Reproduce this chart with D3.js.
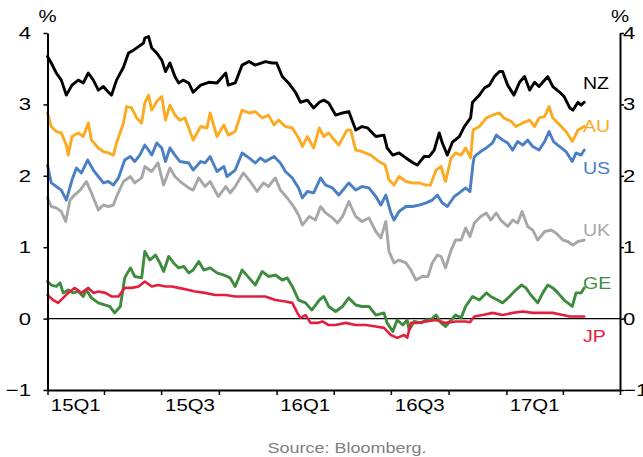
<!DOCTYPE html>
<html><head><meta charset="utf-8">
<script src="https://cdn.jsdelivr.net/npm/d3@7"></script>
<style>html,body{margin:0;padding:0;background:#fff;} svg{display:block;font-family:"Liberation Sans",Arial,sans-serif;}</style>
</head><body><svg id="c" width="643" height="457"></svg>
<script>
// ---- data (time in weeks since 2015-01-01, values in %) ----
const startDate = new Date(2015, 0, 1);
const endDate = new Date(2017, 6, 1);
const yTicks = [-1, 0, 1, 2, 3, 4];
const quarterLabels = ["15Q1", "15Q3", "16Q1", "16Q3", "17Q1"];
const seriesNames = ["NZ", "AU", "US", "UK", "GE", "JP"];
const sourceText = "Source: Bloomberg.";

const nz = [[0,3.67],[0.9,3.58],[2.0,3.44],[3.2,3.34],[4.3,3.13],[5.5,3.27],[7.0,3.34],[8.1,3.30],[9.3,3.44],[10.4,3.34],[11.6,3.20],[12.7,3.25],[13.8,3.17],[14.6,3.13],[15.7,3.34],[17.3,3.52],[18.4,3.72],[19.5,3.76],[20.7,3.81],[21.8,3.86],[22.2,3.93],[23.0,3.95],[23.7,3.79],[24.9,3.72],[26.0,3.62],[26.8,3.46],[27.9,3.58],[29.0,3.39],[29.8,3.30],[30.9,3.34],[32.1,3.30],[33.2,3.17],[34.8,3.27],[36.7,3.31],[38.6,3.30],[40.5,3.44],[41.2,3.27],[42.7,3.30],[44.3,3.55],[45.8,3.60],[47.3,3.55],[49.6,3.60],[51.1,3.58],[52.2,3.58],[53.4,3.39],[54.9,3.30],[56.4,3.17],[57.6,3.03],[59.1,3.06],[60.6,2.95],[61.8,3.03],[62.9,3.06],[64.0,3.02],[65.5,2.85],[67.1,2.88],[68.6,2.90],[70.1,2.64],[71.6,2.69],[72.8,2.67],[74.7,2.55],[76.6,2.57],[77.3,2.39],[78.5,2.29],[80.0,2.32],[81.5,2.25],[83.0,2.19],[84.2,2.15],[85.7,2.27],[86.8,2.27],[88.0,2.36],[89.1,2.60],[89.9,2.46],[91.0,2.29],[92.2,2.47],[93.7,2.55],[94.8,2.69],[96.3,2.81],[96.7,3.03],[98.3,3.13],[99.4,3.23],[100.5,3.27],[101.7,3.39],[102.8,3.46],[103.6,3.46],[104.7,3.27],[106.2,3.13],[107.4,3.31],[108.5,3.39],[109.7,3.20],[110.8,3.31],[111.9,3.25],[113.8,3.39],[115.0,3.25],[116.5,3.17],[117.6,3.11],[118.8,2.95],[119.5,2.92],[120.7,3.03],[121.4,2.99],[122.2,3.03]];
const au = [[0,2.88],[0.9,2.69],[2.0,2.62],[3.2,2.60],[4.3,2.43],[4.7,2.29],[5.5,2.55],[7.0,2.60],[8.1,2.55],[9.3,2.74],[10.0,2.50],[11.6,2.39],[12.7,2.34],[13.8,2.32],[15.0,2.29],[15.7,2.46],[17.3,2.74],[18.0,2.97],[19.2,2.95],[20.3,2.81],[21.4,2.74],[22.2,3.02],[23.0,3.13],[23.7,2.92],[24.9,3.04],[26.0,3.11],[26.8,2.78],[27.9,2.99],[29.0,2.85],[30.2,2.78],[31.3,2.81],[32.1,2.67],[33.2,2.50],[34.8,2.69],[36.3,2.67],[37.0,2.88],[38.6,2.55],[40.1,2.71],[41.2,2.57],[42.7,2.62],[44.3,2.92],[45.8,2.88],[47.3,2.90],[48.8,2.81],[50.3,2.85],[51.5,2.71],[52.6,2.78],[54.1,2.69],[55.7,2.67],[57.2,2.53],[58.0,2.41],[59.1,2.55],[60.6,2.39],[61.8,2.67],[62.9,2.55],[64.0,2.60],[64.8,2.53],[66.3,2.43],[68.2,2.64],[69.0,2.64],[70.1,2.36],[71.6,2.34],[73.5,2.29],[75.4,2.20],[76.9,2.15],[77.7,1.94],[78.9,1.87],[80.0,1.99],[81.5,1.92],[83.0,1.90],[84.6,1.90],[86.1,1.87],[87.2,1.87],[88.4,2.08],[89.5,2.13],[90.6,1.92],[91.8,2.25],[92.9,2.32],[94.1,2.29],[95.2,2.39],[96.3,2.25],[96.9,2.64],[98.3,2.69],[99.8,2.81],[101.3,2.85],[102.8,2.88],[103.9,2.81],[105.5,2.76],[106.6,2.69],[108.1,2.74],[109.7,2.78],[110.8,2.69],[111.9,2.81],[113.1,2.83],[114.1,2.97],[115.0,2.81],[116.5,2.71],[118.0,2.62],[119.4,2.48],[120.7,2.64],[122.2,2.69]];
const us = [[0,2.15],[0.9,1.90],[2.0,1.85],[3.2,1.80],[4.3,1.66],[5.5,1.94],[6.6,2.11],[7.7,2.04],[9.1,2.22],[10.4,2.08],[11.6,1.99],[12.7,1.90],[13.8,1.92],[15.0,1.87],[16.1,1.97],[17.6,2.22],[18.8,2.27],[19.9,2.20],[21.0,2.29],[22.2,2.43],[23.0,2.36],[23.7,2.29],[24.9,2.46],[26.0,2.39],[26.8,2.20],[27.9,2.39],[29.0,2.29],[30.2,2.20],[32.1,2.18],[33.2,2.08],[34.8,2.20],[35.9,2.18],[37.0,2.27],[38.6,2.06],[40.1,2.13],[40.8,1.99],[42.7,2.08],[44.3,2.32],[45.8,2.25],[47.3,2.18],[48.4,2.25],[49.6,2.20],[51.5,2.27],[53.0,2.18],[54.1,2.06],[55.7,1.97],[57.2,1.83],[58.0,1.69],[59.1,1.78],[60.6,1.76],[62.1,1.97],[63.3,1.87],[64.8,1.83],[66.3,1.73],[68.6,1.90],[70.1,1.80],[71.6,1.85],[73.2,1.83],[74.7,1.71],[75.8,1.59],[77.0,1.73],[78.1,1.48],[78.9,1.38],[80.0,1.50],[81.5,1.57],[83.0,1.57],[84.6,1.59],[86.1,1.62],[87.6,1.66],[88.7,1.73],[89.9,1.62],[91.0,1.57],[92.5,1.71],[93.7,1.76],[95.2,1.83],[96.1,1.78],[96.9,2.18],[97.1,2.27],[98.6,2.34],[99.8,2.39],[101.3,2.46],[102.2,2.57],[103.6,2.50],[104.7,2.46],[105.9,2.36],[107.0,2.48],[108.1,2.43],[109.3,2.50],[110.4,2.41],[111.9,2.36],[113.1,2.48],[114.1,2.62],[115.1,2.48],[116.5,2.41],[118.0,2.34],[119.4,2.20],[120.3,2.32],[121.4,2.29],[122.2,2.36]];
const uk = [[0,1.69],[0.9,1.57],[2.0,1.55],[3.2,1.50],[4.1,1.36],[5.1,1.66],[6.2,1.73],[7.4,1.80],[8.9,1.92],[10.0,1.76],[11.6,1.52],[12.7,1.59],[13.8,1.57],[15.0,1.59],[15.7,1.71],[17.3,1.92],[18.8,1.99],[19.9,1.90],[21.4,1.97],[22.2,2.13],[23.7,2.06],[25.2,2.18],[26.4,1.87],[27.9,2.11],[29.0,1.99],[30.6,1.90],[32.1,1.83],[33.2,1.80],[34.4,1.97],[35.9,1.85],[37.0,1.92],[38.9,1.71],[40.5,1.85],[41.6,1.76],[42.7,1.85],[44.6,2.04],[46.2,1.92],[47.7,1.78],[49.2,1.90],[50.3,1.85],[51.9,1.97],[53.0,1.80],[54.5,1.69],[56.0,1.57],[57.2,1.45],[58.0,1.31],[59.5,1.43],[61.0,1.38],[62.1,1.57],[63.3,1.48],[64.8,1.41],[66.0,1.34],[67.1,1.43],[68.6,1.64],[70.1,1.43],[71.6,1.36],[73.2,1.41],[74.7,1.22],[75.8,1.13],[77.0,1.36],[77.7,0.94],[78.9,0.78],[80.0,0.82],[81.5,0.78],[82.7,0.68],[83.8,0.54],[85.3,0.59],[86.5,0.59],[87.6,0.78],[88.7,0.89],[89.5,0.87],[90.6,0.71],[91.8,0.96],[92.9,1.10],[94.1,1.10],[95.2,1.27],[96.1,1.15],[97.1,1.34],[98.6,1.43],[99.8,1.48],[100.9,1.38],[102.1,1.48],[103.2,1.38],[104.7,1.29],[105.9,1.38],[107.0,1.34],[108.0,1.50],[109.3,1.29],[110.4,1.24],[111.6,1.10],[113.1,1.22],[114.6,1.24],[115.7,1.20],[117.3,1.10],[118.4,1.08],[119.5,1.03],[120.7,1.08],[122.2,1.10]];
const ge = [[0,0.52],[0.9,0.47],[2.0,0.45],[2.8,0.50],[3.6,0.36],[4.7,0.40],[5.8,0.36],[7.0,0.38],[8.1,0.31],[8.9,0.40],[10.0,0.29],[11.6,0.22],[13.1,0.19],[14.2,0.17],[15.3,0.08],[16.5,0.17],[17.6,0.57],[18.8,0.71],[19.9,0.59],[21.4,0.57],[22.2,0.94],[23.3,0.82],[24.5,0.89],[25.6,0.78],[26.4,0.66],[27.5,0.87],[28.7,0.78],[29.8,0.71],[31.0,0.73],[32.1,0.64],[33.2,0.68],[34.4,0.80],[35.5,0.68],[37.0,0.71],[38.6,0.64],[40.1,0.61],[41.6,0.57],[42.7,0.45],[44.3,0.68],[45.8,0.57],[47.3,0.47],[48.8,0.66],[50.3,0.59],[51.9,0.61],[53.4,0.54],[54.5,0.57],[55.7,0.45],[57.2,0.26],[58.7,0.22],[60.2,0.12],[61.8,0.26],[62.9,0.31],[64.0,0.17],[65.6,0.10],[67.1,0.17],[68.6,0.29],[70.1,0.19],[71.6,0.17],[73.2,0.17],[74.7,0.05],[76.6,0.08],[77.3,-0.06],[78.5,-0.18],[79.6,-0.02],[80.8,-0.09],[81.9,-0.02],[82.3,-0.16],[83.4,-0.04],[85.0,-0.06],[86.1,-0.02],[87.2,-0.02],[88.4,0.05],[89.5,-0.06],[90.6,-0.11],[91.8,-0.02],[92.9,0.05],[94.1,0.01],[95.2,0.17],[96.7,0.31],[98.3,0.26],[99.8,0.36],[100.9,0.31],[102.4,0.26],[103.6,0.22],[105.1,0.31],[106.6,0.40],[107.8,0.47],[108.9,0.43],[110.0,0.33],[111.6,0.22],[112.7,0.36],[113.8,0.47],[115.0,0.43],[116.1,0.36],[117.6,0.26],[119.4,0.17],[120.3,0.36],[121.4,0.36],[122.2,0.43]];
const jp = [[0,0.33],[1.3,0.26],[2.4,0.22],[3.6,0.29],[4.7,0.36],[6.2,0.43],[7.7,0.36],[9.3,0.43],[10.4,0.36],[11.6,0.38],[13.1,0.36],[14.6,0.31],[16.1,0.31],[17.6,0.43],[19.2,0.43],[20.7,0.45],[22.2,0.52],[23.7,0.45],[25.2,0.47],[26.8,0.45],[28.3,0.45],[29.8,0.43],[32.1,0.40],[33.6,0.38],[35.9,0.36],[38.2,0.33],[40.5,0.33],[42.7,0.31],[45.0,0.31],[47.3,0.31],[49.6,0.31],[51.9,0.26],[54.1,0.24],[55.7,0.22],[56.8,0.08],[57.6,0.01],[58.7,0.05],[59.8,-0.06],[61.4,-0.06],[62.5,-0.04],[64.0,-0.09],[65.6,-0.09],[67.8,-0.06],[70.1,-0.09],[72.4,-0.09],[74.7,-0.11],[76.6,-0.13],[78.1,-0.23],[79.6,-0.27],[81.1,-0.23],[81.9,-0.27],[82.7,-0.06],[84.2,-0.06],[86.1,-0.04],[88.4,-0.02],[90.6,-0.06],[92.9,-0.04],[95.2,-0.04],[96.2,-0.05],[97.1,0.03],[99.0,0.05],[101.3,0.08],[103.6,0.05],[105.9,0.08],[108.1,0.10],[110.4,0.08],[112.7,0.08],[115.0,0.08],[117.3,0.05],[118.8,0.03],[120.3,0.03],[122.2,0.03]];

// ---- styles ----
const seriesData = {NZ: nz, AU: au, US: us, UK: uk, GE: ge, JP: jp};
const colors = {NZ: "#000000", AU: "#FBAA22", US: "#4A7FC4", UK: "#A7A7A9", GE: "#3D8B3D", JP: "#E2203E"};
const labelY = {NZ: 89, AU: 132, US: 174, UK: 236, GE: 289, JP: 342};
const drawOrder = ["UK", "GE", "JP", "US", "AU", "NZ"];

const mLeft = 47.5, mRight = 620, mTop = 33, mBottom = 390;
const SX = 1.2;

const svg = d3.select("#c");
const x = d3.scaleTime().domain([startDate, endDate]).range([mLeft, mRight]);
const y = d3.scaleLinear().domain([-1, 4]).range([mBottom, mTop]);
const toDate = w => new Date(2015, 0, 1 + Math.round(w * 7));

function stext(px, py, txt, opt) {
  opt = opt || {};
  return svg.append("text")
    .attr("transform", `translate(${px},${py}) scale(${opt.sx || SX},1)`)
    .attr("text-anchor", opt.anchor || "start")
    .attr("font-size", (opt.size || 17) + "px")
    .attr("fill", opt.fill || "#000")
    .text(txt);
}

// zero line
svg.append("line").attr("x1", mLeft).attr("x2", mRight)
  .attr("y1", y(0)).attr("y2", y(0))
  .attr("stroke", "#000").attr("stroke-width", 1.3);

// series
const line = d3.line().x(d => x(toDate(d[0]))).y(d => y(d[1])).curve(d3.curveLinear);
drawOrder.forEach(name => {
  svg.append("path").datum(seriesData[name])
    .attr("d", line).attr("fill", "none")
    .attr("stroke", colors[name])
    .attr("stroke-width", name === "JP" ? 2.6 : 2.9)
    .attr("stroke-linejoin", "round").attr("stroke-linecap", "round");
});

// axes
function styleAxis(g) {
  g.selectAll("path.domain").attr("stroke", "#000").attr("stroke-width", 2);
  g.selectAll(".tick line").attr("stroke", "#000").attr("stroke-width", 1.5);
}
svg.append("g").attr("transform", `translate(${mLeft},0)`)
  .call(d3.axisLeft(y).tickValues(yTicks).tickSize(4).tickSizeOuter(0).tickFormat(""))
  .call(styleAxis);
svg.append("g").attr("transform", `translate(${mRight},0)`)
  .call(d3.axisRight(y).tickValues(yTicks).tickSize(4).tickSizeOuter(0).tickFormat(""))
  .call(styleAxis);
const qTicks = d3.timeMonth.every(3).range(startDate, d3.timeDay.offset(endDate, 1));
svg.append("g").attr("transform", `translate(0,${mBottom})`)
  .call(d3.axisBottom(x).tickValues(qTicks).tickSize(5).tickSizeOuter(0).tickFormat(""))
  .call(styleAxis);

// y labels
const fmt = v => (v < 0 ? "\u2212" + Math.abs(v) : String(v));
yTicks.forEach(v => {
  stext(31, y(v) + 6, fmt(v), {anchor: "end", size: 17, sx: 1.3});
  stext(623, y(v) + 6, fmt(v), {anchor: "start", size: 17, sx: 1.3});
});
stext(mLeft, 21.5, "%", {anchor: "middle", size: 17});
stext(mRight, 21.5, "%", {anchor: "middle", size: 17});

// x labels (centered in quarter)
quarterLabels.forEach(q => {
  const yr = 2000 + (+q.slice(0, 2));
  const qi = +q.slice(3);
  const s = new Date(yr, (qi - 1) * 3, 1);
  const e = new Date(yr, qi * 3, 1);
  const mid = (x(s) + x(e)) / 2;
  stext(mid, 410.5, q, {anchor: "middle", size: 17});
});

// series labels
seriesNames.forEach(n => {
  stext(583, labelY[n], n, {size: 17, fill: colors[n], sx: 1.15});
});

// source
stext(347, 453, sourceText, {anchor: "middle", size: 15, fill: "#7F7F7F"});
</script></body></html>
